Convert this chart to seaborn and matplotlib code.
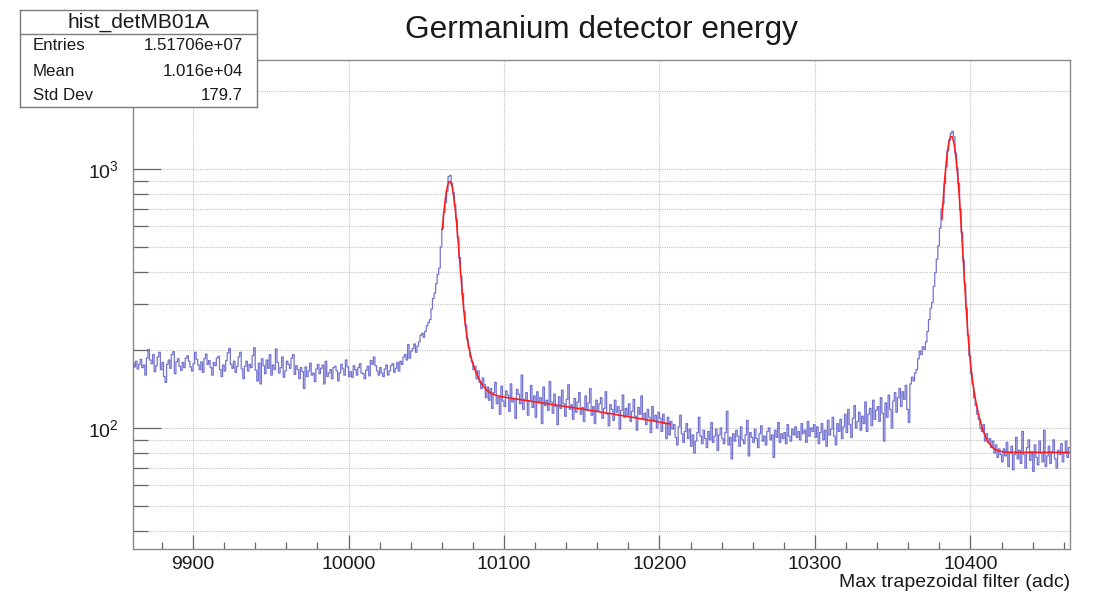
import numpy as np
import pandas as pd
import matplotlib
matplotlib.use("Agg")
import matplotlib.pyplot as plt
import seaborn as sns
from matplotlib.ticker import FixedLocator, FuncFormatter, NullFormatter

# ---------------- data ----------------
first_bin_edge = 9861
bin_width = 1

counts_flat_left = [  # 9861 - 10029
    178, 172, 181, 169, 176, 184, 171, 175, 160, 186,
    201, 183, 177, 192, 165, 174, 188, 196, 168, 179,
    158, 150, 176, 183, 170, 192, 197, 162, 180, 185,
    173, 167, 179, 171, 186, 190, 181, 172, 166, 177,
    196, 184, 175, 168, 180, 164, 185, 193, 176, 182,
    171, 160, 179, 174, 186, 189, 168, 158, 175, 166,
    182, 195, 203, 176, 170, 181, 164, 173, 188, 196,
    169, 155, 173, 181, 166, 176, 171, 190, 204, 167,
    152, 178, 148, 185, 174, 162, 183, 170, 192, 160,
    175, 168, 202, 179, 163, 171, 188, 157, 166, 181,
    176, 170, 186, 192, 161, 174, 168, 155, 171, 165,
    142, 172, 158, 166, 178, 160, 163, 151, 169, 176,
    162, 170, 175, 148, 181, 158, 163, 168, 155, 171,
    173, 166, 152, 163, 176, 169, 160, 183, 172, 158,
    165, 157, 174, 168, 160, 171, 177, 163, 162, 155,
    167, 173, 159, 182, 176, 188, 174, 166, 160, 171,
    163, 158, 169, 175, 160, 166, 174, 177, 164,
]
counts_peak1 = [  # 10030 - 10089
    170, 179, 166, 181, 176, 188, 192, 183, 210, 186,
    198, 203, 211, 196, 207, 215, 228, 232, 224, 236,
    248, 255, 262, 288, 316, 332, 361, 392, 414, 500,
    590, 680, 740, 820, 935, 945, 880, 810, 725, 640,
    545, 455, 385, 330, 282, 250, 220, 205, 188, 180,
    168, 173, 155, 166, 150, 142, 156, 147, 131, 144,
]
counts_slope = [  # 10090 - 10209
    128, 142, 119, 137, 150, 124, 131, 113, 145, 127,
    121, 139, 134, 116, 148, 126, 130, 109, 141, 135,
    124, 160, 118, 129, 137, 112, 127, 146, 120, 133,
    110, 138, 125, 131, 104, 144, 122, 128, 117, 151,
    126, 114, 135, 121, 103, 132, 119, 140, 124, 111,
    129, 147, 118, 123, 108, 130, 115, 126, 137, 113,
    120, 106, 133, 117, 125, 142, 112, 121, 104, 128,
    116, 124, 131, 109, 119, 138, 113, 102, 123, 118,
    107, 128, 115, 121, 99, 117, 134, 110, 119, 112,
    124, 106, 116, 129, 111, 98, 120, 113, 133, 108,
    114, 103, 118, 110, 96, 121, 107, 112, 100, 115,
    109, 97, 113, 104, 91, 110, 94, 106, 99, 103,
]
counts_valley = [  # 10210 - 10299
    92, 86, 101, 112, 95, 88, 97, 104, 91, 99,
    85, 94, 80, 89, 96, 110, 93, 87, 98, 91,
    84, 97, 90, 105, 88, 93, 99, 82, 94, 100,
    91, 87, 96, 116, 86, 92, 76, 95, 89, 98,
    93, 85, 101, 90, 87, 94, 107, 78, 96, 92,
    88, 99, 91, 84, 95, 102, 89, 93, 86, 97,
    100, 90, 94, 77, 98, 92, 105, 88, 95, 91,
    96, 87, 103, 93, 89, 99, 94, 101, 92, 97,
    90, 104, 95, 98, 88, 106, 93, 100, 97, 103,
]
counts_rise = [  # 10300 - 10364
    92, 101, 87, 96, 104, 90, 98, 85, 107, 94,
    99, 110, 93, 86, 104, 97, 108, 91, 101, 113,
    96, 118, 103, 92, 109, 122, 100, 106, 115, 98,
    111, 104, 126, 97, 113, 119, 102, 128, 108, 117,
    121, 106, 131, 114, 89, 125, 110, 134, 118, 100,
    127, 137, 115, 131, 142, 121, 138, 129, 146, 118,
    105, 148, 157, 152, 163,
]
counts_peak2 = [  # 10365 - 10419
    168, 185, 198, 192, 206, 201, 215, 236, 262, 290,
    305, 352, 398, 448, 505, 590, 700, 735, 880, 1020,
    1176, 1290, 1372, 1398, 1330, 1150, 1010, 880, 700, 570,
    445, 360, 290, 228, 190, 162, 148, 131, 122, 113,
    108, 100, 97, 103, 89, 95, 88, 91, 84, 89,
    80, 86, 77, 83, 79,
]
counts_tail = [  # 10420 - 10463
    74, 83, 78, 88, 71, 80, 85, 69, 79, 92,
    76, 82, 73, 97, 79, 70, 84, 90, 75, 81,
    68, 86, 77, 72, 89, 80, 74, 98, 71, 78,
    85, 73, 81, 90, 76, 70, 82, 79, 87, 74,
    80, 89, 77, 84,
]

# fit parameters: [A_core, mean, sigma_core, A_wide, sigma_wide, bg_at_mean, bg_slope]
fit1_params = [620, 10065.1, 4.2, 135, 9.5, 140.5, -0.26]
fit1_range = [10060.3, 10207.0]
fit2_params = [1080, 10387.7, 4.4, 175, 9.5, 80.5, 0.0]
fit2_range = [10381.6, 10464.0]

x_limits = [9861.4, 10464.0]
y_limits = [34.1, 2635.0]
x_major_ticks = [9900, 10000, 10100, 10200, 10300, 10400]
y_major_ticks = [100, 1000]

title_text = "Germanium detector energy"
xlabel_text = "Max trapezoidal filter (adc)"
stats_title = "hist_detMB01A"
stats_labels = ["Entries", "Mean", "Std Dev"]
stats_values = ["1.51706e+07", "1.016e+04", "179.7"]

# ---------------- styling ----------------
sns.set_style("white")
plt.rcParams["font.family"] = ["Liberation Sans", "DejaVu Sans"]
plt.rcParams["mathtext.fontset"] = "custom"
plt.rcParams["mathtext.rm"] = "Liberation Sans"

hist_color = "#5c5cc8"
fit_color = "#ff1a1a"
frame_color = "#8a8a8a"
grid_color = "#c4c4c4"
text_color = "#1a1a1a"

W, H = 1097, 595
fig = plt.figure(figsize=(W / 100, H / 100), dpi=100)
fig.patch.set_facecolor("white")
ax = fig.add_axes([133 / W, 1 - 549 / H, (1070 - 133) / W, (549 - 60) / H])

counts = np.array(counts_flat_left + counts_peak1 + counts_slope + counts_valley
                  + counts_rise + counts_peak2 + counts_tail, dtype=float)
edges = first_bin_edge + bin_width * np.arange(len(counts) + 1)
centers = 0.5 * (edges[:-1] + edges[1:])
df = pd.DataFrame({"x": centers, "w": counts})

sns.histplot(data=df, x="x", weights="w", bins=[float(e) for e in edges],
             element="step", fill=False,
             color=hist_color, linewidth=0.9, alpha=0.85, ax=ax, zorder=3)


def fit_curve(p, rng):
    a1, mu, s1, a2, s2, b0, b1 = p
    xs = np.linspace(rng[0], rng[1], 600)
    ys = (a1 * np.exp(-0.5 * ((xs - mu) / s1) ** 2)
          + a2 * np.exp(-0.5 * ((xs - mu) / s2) ** 2)
          + b0 + b1 * (xs - mu))
    return pd.DataFrame({"x": xs, "y": ys})


for p, rng in [(fit1_params, fit1_range), (fit2_params, fit2_range)]:
    sns.lineplot(data=fit_curve(p, rng), x="x", y="y", color=fit_color,
                 linewidth=1.15, ax=ax, zorder=4)

ax.set_yscale("log")
ax.set_xlim(*x_limits)
ax.set_ylim(*y_limits)

# ticks
ax.xaxis.set_major_locator(FixedLocator(x_major_ticks))
x_minor = [v for v in range(9880, 10470, 20) if v not in x_major_ticks]
ax.xaxis.set_minor_locator(FixedLocator(x_minor))
ax.yaxis.set_major_locator(FixedLocator(y_major_ticks))
y_minor = [m * d for d in (10, 100, 1000) for m in range(2, 10)]
y_minor = [v for v in y_minor if y_limits[0] <= v <= y_limits[1]]
ax.yaxis.set_minor_locator(FixedLocator(y_minor))
ax.yaxis.set_major_formatter(FuncFormatter(
    lambda v, pos: r"$\mathregular{10^{%d}}$" % int(round(np.log10(v)))))
ax.yaxis.set_minor_formatter(NullFormatter())

ax.tick_params(axis="x", which="both", bottom=True, top=False)
ax.tick_params(axis="y", which="both", left=True, right=False)
ax.tick_params(axis="x", which="major", direction="in", length=10, width=0.9,
               color="#666666", labelsize=14, pad=5, labelcolor=text_color)
ax.tick_params(axis="x", which="minor", direction="in", length=5, width=0.9,
               color="#666666")
ax.tick_params(axis="y", which="major", direction="in", length=20, width=0.9,
               color="#666666", labelsize=14, pad=10, labelcolor=text_color)
ax.tick_params(axis="y", which="minor", direction="in", length=10.5, width=0.9,
               color="#666666")

ax.xaxis.grid(True, which="major", color=grid_color, linestyle=(0, (1, 1)), linewidth=0.8)
ax.yaxis.grid(True, which="both", color=grid_color, linestyle=(0, (1, 1)), linewidth=0.8)
ax.set_axisbelow(True)

for s in ax.spines.values():
    s.set_color(frame_color)
    s.set_linewidth(1.0)
    s.set_visible(True)

ax.set_ylabel("")
ax.set_xlabel(xlabel_text, loc="right", fontsize=14, color=text_color, labelpad=1)
ax.set_title(title_text, fontsize=22.7, color=text_color, pad=16)

# stats box
sax = fig.add_axes([20 / W, 1 - 107 / H, (257 - 20) / W, (107 - 10) / H])
sax.set_xlim(0, 1)
sax.set_ylim(0, 1)
sax.set_xticks([])
sax.set_yticks([])
sax.set_facecolor("white")
for s in sax.spines.values():
    s.set_color("#7a7a7a")
    s.set_linewidth(1.0)
sep_y = (107 - 34) / 97
sax.axhline(sep_y, color="#7a7a7a", linewidth=1.0)
sax.text(0.5, (107 - 22) / 97, stats_title, ha="center", va="center",
         fontsize=15, color=text_color)
row_y = [(107 - 46) / 97, (107 - 71) / 97, (107 - 96) / 97]
for lab, val, yy in zip(stats_labels, stats_values, row_y):
    sax.text(0.055, yy, lab, ha="left", va="center", fontsize=12.2, color=text_color)
    sax.text(0.941, yy, val, ha="right", va="center", fontsize=12.2, color=text_color)

fig.savefig("out.png", dpi=100)
